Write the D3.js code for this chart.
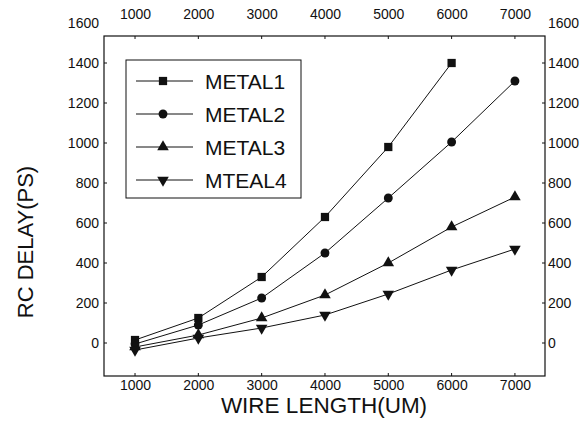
<!DOCTYPE html>
<html>
<head>
<meta charset="utf-8">
<script src="https://cdn.jsdelivr.net/npm/d3@7"></script>
<style>
  body { margin: 0; background: #fff; }
  svg text { font-family: "Liberation Sans", Arial, sans-serif; fill: #111; }
</style>
</head>
<body>
<svg width="584" height="424"></svg>
<script>
const lengths = [1000, 2000, 3000, 4000, 5000, 6000, 7000]
const metal1 = [15, 125, 330, 630, 980, 1400]
const metal2 = [-5, 90, 225, 450, 725, 1005, 1310]
const metal3 = [-20, 40, 125, 240, 400, 580, 730]
const mteal4 = [-35, 25, 75, 140, 245, 365, 470]
const seriesNames = ['METAL1', 'METAL2', 'METAL3', 'MTEAL4']
const yTicks = [0, 200, 400, 600, 800, 1000, 1200, 1400, 1600]
const xTicks = [1000, 2000, 3000, 4000, 5000, 6000, 7000]

const series = [metal1, metal2, metal3, mteal4].map((vals, i) => ({
  name: seriesNames[i],
  shape: i,
  points: vals.map((v, j) => ({x: lengths[j], y: v}))
}))

const svg = d3.select('svg')
const fL = 104, fR = 545, fT = 36, fB = 376

const x = d3.scaleLinear().domain([510, 7475]).range([fL, fR])
const y = d3.scaleLinear().domain([-165, 1535]).range([fB, fT])
const fmt = d3.format('d')

// frame
svg.append('rect')
  .attr('x', fL).attr('y', fT)
  .attr('width', fR - fL).attr('height', fB - fT)
  .attr('fill', 'none').attr('stroke', '#111').attr('stroke-width', 1.2)

// tick labels
const fontSize = '14px'
const leftAxis = svg.append('g')
  .attr('transform', `translate(${fL},0)`)
  .call(d3.axisLeft(y).tickValues(yTicks).tickSize(0).tickPadding(5).tickFormat(fmt))
const rightAxis = svg.append('g')
  .attr('transform', `translate(${fR},0)`)
  .call(d3.axisRight(y).tickValues(yTicks).tickSize(0).tickPadding(3).tickFormat(fmt))
const bottomAxis = svg.append('g')
  .attr('transform', `translate(0,${fB})`)
  .call(d3.axisBottom(x).tickValues(xTicks).tickSize(0).tickPadding(4).tickFormat(fmt))
const topAxis = svg.append('g')
  .attr('transform', `translate(0,${fT})`)
  .call(d3.axisTop(x).tickValues(xTicks).tickSize(0).tickPadding(17).tickFormat(fmt))

;[leftAxis, rightAxis, bottomAxis, topAxis].forEach(g => {
  g.select('.domain').remove()
  g.selectAll('text').style('font-size', fontSize).attr('fill', '#111')
})

// small inward ticks on the frame
svg.append('g').selectAll('line.yt')
  .data(yTicks.filter(d => y(d) > fT))
  .enter().append('line')
  .attr('x1', fL).attr('x2', fL + 3)
  .attr('y1', d => y(d)).attr('y2', d => y(d))
  .attr('stroke', '#111')
svg.append('g').selectAll('line.yr')
  .data(yTicks.filter(d => y(d) > fT))
  .enter().append('line')
  .attr('x1', fR).attr('x2', fR - 3)
  .attr('y1', d => y(d)).attr('y2', d => y(d))
  .attr('stroke', '#111')
svg.append('g').selectAll('line.xb')
  .data(xTicks)
  .enter().append('line')
  .attr('x1', d => x(d)).attr('x2', d => x(d))
  .attr('y1', fB).attr('y2', fB - 3)
  .attr('stroke', '#111')
svg.append('g').selectAll('line.xt')
  .data(xTicks)
  .enter().append('line')
  .attr('x1', d => x(d)).attr('x2', d => x(d))
  .attr('y1', fT).attr('y2', fT + 3)
  .attr('stroke', '#111')

// marker paths
const symbols = [
  d3.symbol().type(d3.symbolSquare).size(68),
  d3.symbol().type(d3.symbolCircle).size(62),
  d3.symbol().type(d3.symbolTriangle).size(58),
  d3.symbol().type(d3.symbolTriangle).size(58)
]
const rot = i => i === 3 ? ' rotate(180)' : ''

const line = d3.line().x(d => x(d.x)).y(d => y(d.y))

const groups = svg.selectAll('.series')
  .data(series)
  .enter().append('g')
  .classed('series', true)

groups.append('path')
  .attr('d', d => line(d.points))
  .attr('fill', 'none')
  .attr('stroke', '#111')
  .attr('stroke-width', 1)

groups.each(function (s) {
  d3.select(this).selectAll('path.mk')
    .data(s.points)
    .enter().append('path')
    .classed('mk', true)
    .attr('d', symbols[s.shape]())
    .attr('transform', d => `translate(${x(d.x)},${y(d.y)})` + rot(s.shape))
    .attr('fill', '#111')
})

// legend
const legend = svg.append('g')
legend.append('rect')
  .attr('x', 126).attr('y', 60).attr('width', 175).attr('height', 138)
  .attr('fill', '#fff').attr('stroke', '#111').attr('stroke-width', 1)

const items = legend.selectAll('.item')
  .data(series)
  .enter().append('g')
  .attr('transform', (d, i) => `translate(0,${81 + i * 33})`)
items.append('line')
  .attr('x1', 136).attr('x2', 193)
  .attr('stroke', '#111').attr('stroke-width', 1)
items.append('path')
  .attr('d', d => symbols[d.shape]())
  .attr('transform', d => 'translate(163,0)' + rot(d.shape))
  .attr('fill', '#111')
items.append('text')
  .attr('x', 205).attr('y', 7.5)
  .style('font-size', '21px')
  .text(d => d.name)

// axis titles
svg.append('text')
  .attr('x', 324).attr('y', 413)
  .attr('text-anchor', 'middle')
  .style('font-size', '22.5px')
  .text('WIRE LENGTH(UM)')
svg.append('text')
  .attr('transform', 'translate(33,242) rotate(-90)')
  .attr('text-anchor', 'middle')
  .style('font-size', '22px')
  .text('RC DELAY(PS)')
</script>
</body>
</html>
